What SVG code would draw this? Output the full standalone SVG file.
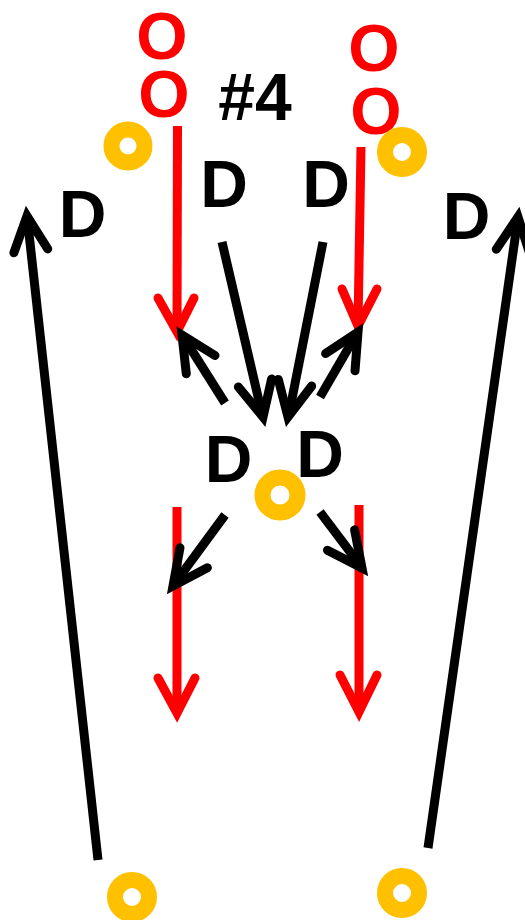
<svg xmlns="http://www.w3.org/2000/svg" width="525" height="920" viewBox="0 0 525 920">
<style>
  text { font-family: "Liberation Sans", Arial, sans-serif; font-weight: bold; font-size: 66px; text-anchor: middle; }
  .o { fill: #FF0000; }
  .d { fill: #000000; }
  .ring { fill: none; stroke: #FFC000; stroke-width: 16; }
  .rl { fill: none; stroke: #FF0000; stroke-width: 9; stroke-linecap: butt; }
  .rh { fill: none; stroke: #FF0000; stroke-width: 9; stroke-linecap: round; stroke-linejoin: miter; stroke-miterlimit: 10; }
  .bl { fill: none; stroke: #000000; stroke-width: 9; stroke-linecap: butt; }
  .bh { fill: none; stroke: #000000; stroke-width: 9; stroke-linecap: round; stroke-linejoin: miter; stroke-miterlimit: 10; }
</style>
<rect width="525" height="920" fill="#FFFFFF"/>
<g id="connectors">
  <!-- red routes -->
  <path class="rl" d="M177.5,126 L177,330"/>
  <path class="rh" d="M158,298 L177,332 L194,298"/>
  <path class="rl" d="M361,147 L358,324"/>
  <path class="rh" d="M342,289 L358,326 L377,289"/>
  <path class="rl" d="M177,507 L177,710"/>
  <path class="rh" d="M158,678 L177,713 L195,678"/>
  <path class="rl" d="M359,505 L359,709"/>
  <path class="rh" d="M340,675 L359,712 L377,675"/>
  <!-- black arrows -->
  <path class="bl" d="M222,242 L262,414"/>
  <path class="bh" d="M238.4,387 L263,417 L271.6,379"/>
  <path class="bl" d="M323,242 L289,414"/>
  <path class="bh" d="M278.3,379.4 L288,417 L311.7,386"/>
  <path class="bl" d="M225,403 L184,338"/>
  <path class="bh" d="M186.3,373.7 L182,335 L215,355.5"/>
  <path class="bl" d="M320,397 L356,335"/>
  <path class="bh" d="M325.6,353.6 L358,332 L355,370.8"/>
  <path class="bl" d="M225,515 L175,583"/>
  <path class="bh" d="M180,547.8 L173,586 L207.4,567.8"/>
  <path class="bl" d="M320,512 L360,565"/>
  <path class="bh" d="M327.4,550.2 L362,568 L354.6,529.8"/>
  <path class="bl" d="M98,860 L27.5,220"/>
  <path class="bh" d="M13.9,252.7 L27,216 L47.7,248.9"/>
  <path class="bl" d="M428,848 L517.5,221"/>
  <path class="bh" d="M496.3,249.2 L518,217 L529.9,254"/>
</g>
<g id="o-top-left"><text class="o" x="162" y="59">O</text></g>
<g id="o-bottom-left"><text class="o" x="164" y="117">O</text></g>
<g id="o-top-right"><text class="o" x="374" y="70.5">O</text></g>
<g id="o-bottom-right"><text class="o" x="376" y="134">O</text></g>
<g id="label-4"><text class="d" x="255" y="120">#4</text></g>
<g id="d-top-left"><text class="d" x="224" y="207">D</text></g>
<g id="d-top-right"><text class="d" x="326" y="207">D</text></g>
<g id="d-outer-left"><text class="d" x="82.5" y="237">D</text></g>
<g id="d-outer-right"><text class="d" x="466.5" y="239">D</text></g>
<g id="d-mid-left"><text class="d" x="228.5" y="482">D</text></g>
<g id="d-mid-right"><text class="d" x="320" y="477">D</text></g>
<g id="ring-top-left"><circle class="ring" cx="128" cy="146" r="16.5"/></g>
<g id="ring-top-right"><circle class="ring" cx="402" cy="152" r="17"/></g>
<g id="ring-mid"><circle class="ring" cx="280" cy="495" r="17.5"/></g>
<g id="ring-bottom-left"><circle class="ring" cx="132" cy="897" r="17"/></g>
<g id="ring-bottom-right"><circle class="ring" cx="402" cy="893" r="17"/></g>
</svg>
